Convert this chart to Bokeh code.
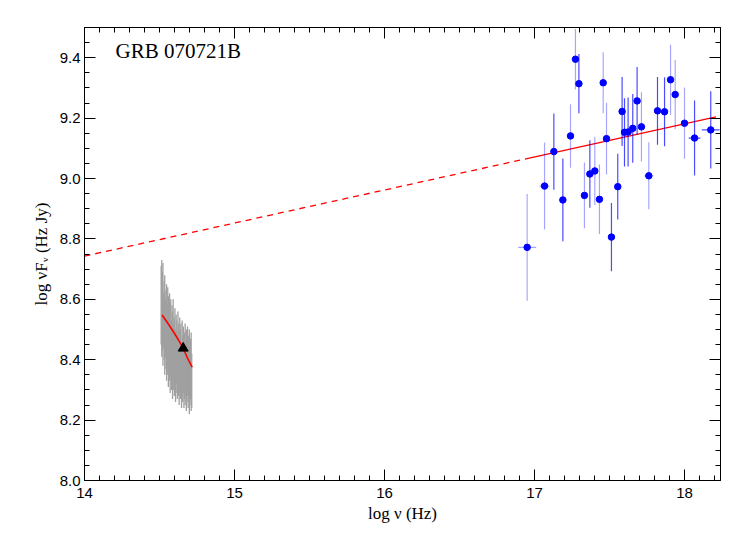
import numpy as np
from bokeh.plotting import figure
from bokeh.models import (LinearAxis, SingleIntervalTicker, Range1d, Label,
                          ColumnDataSource, NumeralTickFormatter, CustomJSTickFormatter)
from bokeh.embed import file_html
from bokeh.resources import INLINE

# ---------------- data ----------------
title_text = "GRB 070721B"

# X-ray points (log nu, log nuFnu, y error, x error, darker bar?)
xr_x = [17.129, 17.240, 17.273, 17.296, 17.458, 17.480, 17.584, 17.600, 17.624, 17.655,
        17.684, 17.713, 17.762, 17.820, 17.867, 17.907, 17.938, 18.000, 18.067, 18.175,
        16.951, 17.067, 17.189, 17.333, 17.369, 17.402, 17.433, 17.513, 17.555]
xr_y = [9.089, 9.141, 9.395, 9.314, 9.317, 9.132, 9.222, 9.153, 9.154, 9.166,
        9.257, 9.171, 9.009, 9.224, 9.221, 9.327, 9.278, 9.183, 9.134, 9.161,
        8.772, 8.975, 8.929, 8.944, 9.015, 9.025, 8.931, 8.806, 8.973]
xr_yerr = [0.126, 0.105, 0.100, 0.098, 0.101, 0.119, 0.114, 0.113, 0.114, 0.114,
           0.112, 0.115, 0.111, 0.112, 0.114, 0.116, 0.114, 0.118, 0.124, 0.128,
           0.177, 0.144, 0.137, 0.109, 0.112, 0.113, 0.115, 0.113, 0.109]
xr_xerr = [0.0, 0.0, 0.0, 0.0, 0.0, 0.0, 0.0, 0.0, 0.0, 0.0,
           0.0, 0.0, 0.029, 0.0, 0.0, 0.0, 0.0, 0.0, 0.039, 0.059,
           0.060, 0.033, 0.0, 0.0, 0.0, 0.0, 0.0, 0.0, 0.0]
xr_dark = [1, 0, 0, 1, 0, 0, 1, 1, 1, 1,
           1, 0, 0, 1, 1, 0, 0, 0, 1, 1,
           0, 0, 1, 0, 1, 0, 0, 1, 1]

# power-law model line (dashed extrapolation, solid over the X-ray band)
pl_dash_x = [14.0, 16.95]
pl_dash_y = [8.743, 9.066]
pl_solid_x = [16.95, 18.21]
pl_solid_y = [9.066, 9.204]

# optical spectrum (grey bars: bottom / top of each bin)
spec_x = [14.511, 14.515, 14.519, 14.523, 14.527, 14.531, 14.535, 14.539, 14.543, 14.547,
          14.551, 14.555, 14.559, 14.563, 14.567, 14.571, 14.575, 14.579, 14.583, 14.587,
          14.591, 14.595, 14.599, 14.603, 14.607, 14.611, 14.615, 14.619, 14.623, 14.627,
          14.631, 14.635, 14.639, 14.643, 14.647, 14.651, 14.655, 14.659, 14.663, 14.667,
          14.671, 14.675, 14.679, 14.683, 14.687, 14.691, 14.695, 14.699, 14.703, 14.707,
          14.711, 14.715]
spec_hi = [8.71, 8.73, 8.69, 8.72, 8.62, 8.66, 8.68, 8.60, 8.63, 8.65,
           8.58, 8.64, 8.61, 8.56, 8.62, 8.59, 8.60, 8.53, 8.58, 8.56,
           8.60, 8.52, 8.54, 8.57, 8.50, 8.55, 8.53, 8.49, 8.56, 8.52,
           8.47, 8.54, 8.50, 8.52, 8.46, 8.53, 8.48, 8.51, 8.45, 8.49,
           8.52, 8.44, 8.50, 8.47, 8.51, 8.43, 8.48, 8.50, 8.45, 8.47,
           8.49, 8.42]
spec_lo = [8.45, 8.41, 8.43, 8.38, 8.44, 8.40, 8.35, 8.41, 8.37, 8.33,
           8.38, 8.35, 8.31, 8.36, 8.33, 8.29, 8.34, 8.30, 8.32, 8.27,
           8.33, 8.30, 8.28, 8.31, 8.26, 8.29, 8.32, 8.27, 8.30, 8.28,
           8.25, 8.29, 8.27, 8.31, 8.24, 8.28, 8.26, 8.29, 8.24, 8.27,
           8.25, 8.28, 8.23, 8.26, 8.28, 8.24, 8.26, 8.22, 8.25, 8.27,
           8.23, 8.24]

# optical model curve
opt_x = [14.517, 14.551, 14.595, 14.629, 14.658, 14.684, 14.718]
opt_y = [8.548, 8.524, 8.491, 8.463, 8.438, 8.408, 8.375]

# photometric point (triangle)
tri_x = [14.658]
tri_y = [8.438]

# ---------------- figure ----------------
p = figure(width=740, height=530, x_range=Range1d(14.0, 18.24), y_range=Range1d(8.0, 9.5),
           output_backend="svg", toolbar_location=None,
           x_axis_location=None, y_axis_location=None)
p.min_border_left = 84
p.min_border_right = 20
p.min_border_top = 27
p.min_border_bottom = 50
p.grid.visible = False
p.outline_line_color = "black"
p.outline_line_width = 1
p.background_fill_color = "white"
p.border_fill_color = "white"

tick_font = "Liberation Sans"
label_font = "Liberation Serif"


def style_axis(ax, show_labels):
    ax.axis_line_color = "black"
    ax.axis_line_width = 1
    ax.major_tick_line_color = "black"
    ax.minor_tick_line_color = "black"
    ax.major_tick_in = 11
    ax.major_tick_out = 0
    ax.minor_tick_in = 5
    ax.minor_tick_out = 0
    ax.major_label_text_font = tick_font
    ax.major_label_text_color = "black"
    ax.axis_label_text_font = label_font
    ax.axis_label_text_font_style = "normal"
    ax.axis_label_text_font_size = "17px"
    ax.axis_label_text_color = "black"
    if show_labels:
        ax.major_label_text_font_size = "15px"
    else:
        ax.formatter = CustomJSTickFormatter(code="return '';")
        ax.major_label_text_font_size = "15px"
        ax.major_label_standoff = 0


xt = dict(interval=1, num_minor_ticks=10)
yt = dict(interval=0.2, num_minor_ticks=4)

bottom = LinearAxis(ticker=SingleIntervalTicker(**xt), axis_label="log ν (Hz)")
style_axis(bottom, True)
bottom.major_label_standoff = 7
bottom.axis_label_standoff = 3
left = LinearAxis(ticker=SingleIntervalTicker(**yt), formatter=NumeralTickFormatter(format="0.0"),
                  axis_label="log νFᵥ (Hz Jy)")
style_axis(left, True)
left.major_label_standoff = 4
left.axis_label_standoff = 6
top = LinearAxis(ticker=SingleIntervalTicker(**xt))
style_axis(top, False)
right = LinearAxis(ticker=SingleIntervalTicker(**yt))
style_axis(right, False)

p.add_layout(bottom, "below")
p.add_layout(left, "left")
p.add_layout(top, "above")
p.add_layout(right, "right")

# optical spectrum
p.segment(x0=spec_x, y0=spec_lo, x1=spec_x, y1=spec_hi, line_color="#a0a0a0", line_width=1.3)

# power law
p.line(pl_dash_x, pl_dash_y, line_color="red", line_width=1.3, line_dash="6 5")
p.line(pl_solid_x, pl_solid_y, line_color="red", line_width=1.3)

# optical model
p.line(opt_x, opt_y, line_color="red", line_width=1.6)
p.scatter(tri_x, tri_y, marker="triangle", size=10, color="black")

# X-ray error bars
xa = np.array(xr_x); ya = np.array(xr_y)
ye = np.array(xr_yerr); xe = np.array(xr_xerr)
dark = np.array(xr_dark) == 1
for mask, alpha in ((~dark, 0.35), (dark, 0.7)):
    src = ColumnDataSource(dict(x=xa[mask], y0=ya[mask] - ye[mask], y1=ya[mask] + ye[mask]))
    p.segment(x0="x", y0="y0", x1="x", y1="y1", source=src,
              line_color="blue", line_alpha=alpha, line_width=1.2)
    hx = mask & (xe > 0)
    src2 = ColumnDataSource(dict(x0=xa[hx] - xe[hx], x1=xa[hx] + xe[hx], y=ya[hx]))
    p.segment(x0="x0", y0="y", x1="x1", y1="y", source=src2,
              line_color="blue", line_alpha=alpha, line_width=1.2)

p.scatter(xr_x, xr_y, marker="circle", size=6.5, color="blue")

p.add_layout(Label(x=14.207, y=9.422, text=title_text, text_font=label_font,
                   text_font_size="21px", text_baseline="middle", text_color="black"))

open("out.html", "w").write(file_html(p, INLINE))
